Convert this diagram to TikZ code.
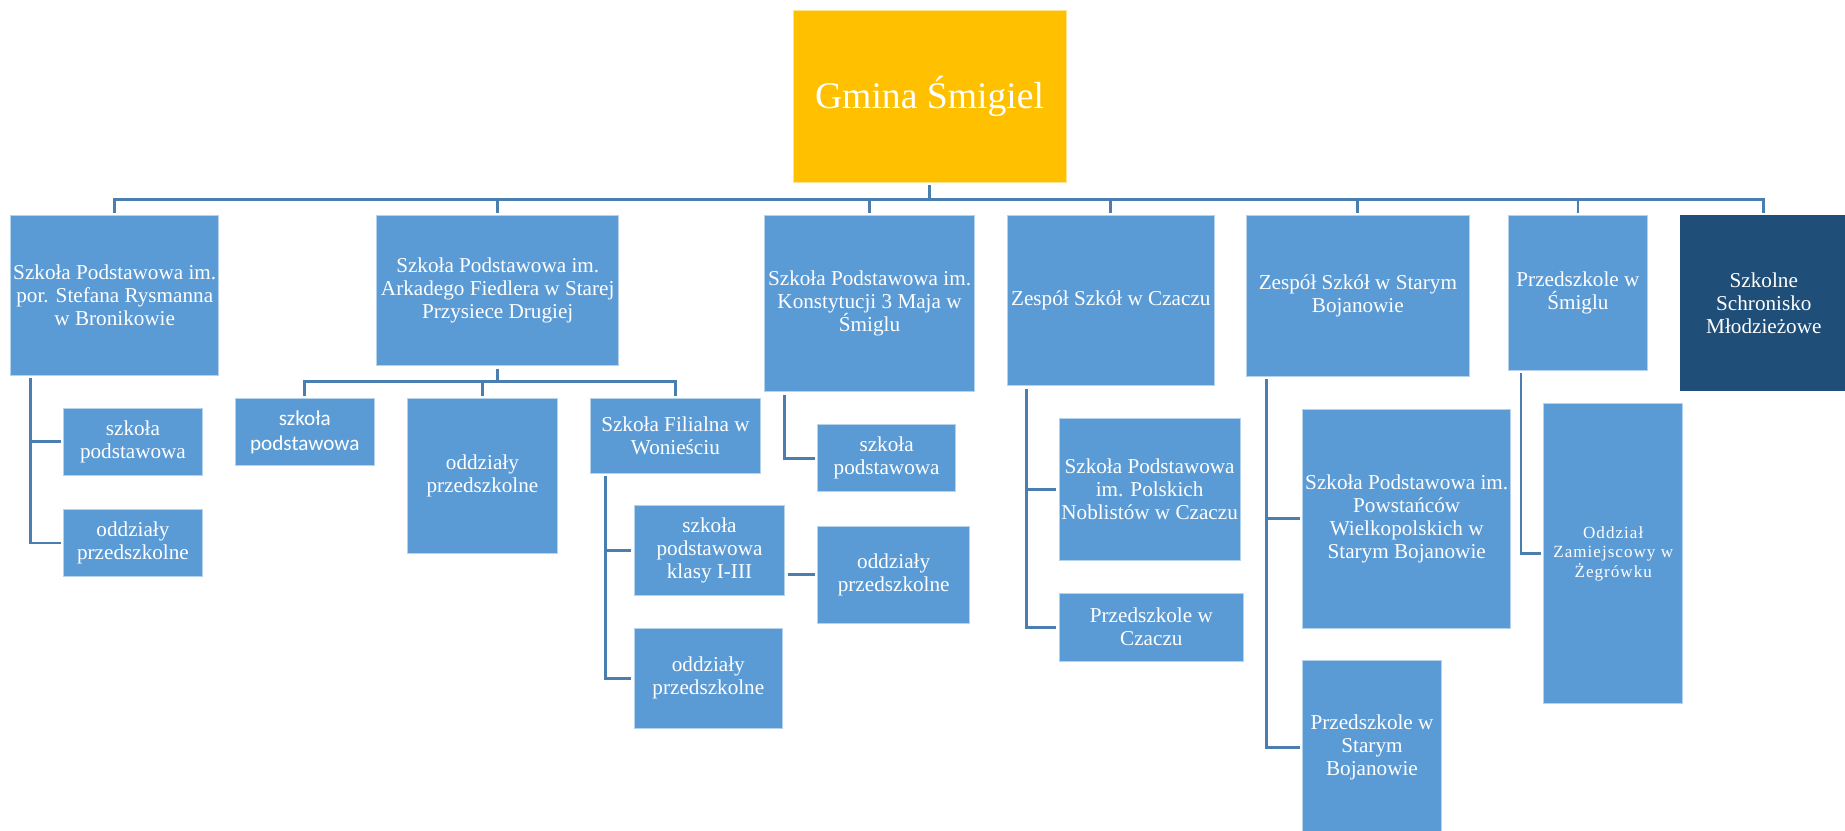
\documentclass[tikz,border=0pt]{standalone}
\usepackage{fontspec}
\setmainfont{Liberation Serif}
\newfontfamily\calibrifont{Carlito}
\usepackage{tikz}
\definecolor{boxblue}{HTML}{5B9BD5}
\definecolor{boxdark}{HTML}{1F4E79}
\definecolor{boxgold}{HTML}{FFC000}
\definecolor{linkblue}{HTML}{4A7EB0}

\begin{document}
\begin{tikzpicture}[x=1pt, y=-1pt,
        unit/.style={fill=boxblue, draw=white!55!boxblue, line width=0.8pt, text=white, align=center,
            inner xsep=0pt, inner ysep=2pt, font=\fontsize{18}{19.5}\selectfont},
        link/.style={draw=linkblue, line width=2.4pt, shorten <=2pt, shorten >=2pt}]
                \useasboundingbox (0,0) rectangle (1568,706);
                \node[unit, fill=boxgold, draw=white!55!boxgold, minimum width=232pt, minimum height=146pt,
                    font=\fontsize{32}{38}\selectfont] (gmina) at (790,82) {Gmina Śmigiel};
                \node[unit, minimum width=177pt, minimum height=136pt] (bronikowo) at (97.5,251) {Szkoła Podstawowa im.\\por. Stefana Rysmanna\\w Bronikowie};
                \node[unit, minimum width=206pt, minimum height=128pt] (przysieka) at (423,247) {Szkoła Podstawowa im.\\Arkadego Fiedlera w Starej\\Przysiece Drugiej};
                \node[unit, minimum width=178pt, minimum height=150pt] (smigiel) at (739,258) {Szkoła Podstawowa im.\\Konstytucji 3 Maja w\\Śmiglu};
                \node[unit, minimum width=176pt, minimum height=145pt] (czacz) at (944,255.5) {Zespół Szkół w Czaczu};
                \node[unit, minimum width=190pt, minimum height=137pt] (bojanowo) at (1154,251.5) {Zespół Szkół w Starym\\Bojanowie};
                \node[unit, minimum width=118pt, minimum height=132pt] (przedszkole) at (1341,249) {Przedszkole w\\Śmiglu};
                \node[unit, fill=boxdark, draw=boxdark, minimum width=142pt, minimum height=149pt] (schronisko) at (1499,257.5) {Szkolne\\Schronisko\\Młodzieżowe};
                \node[unit, minimum width=118pt, minimum height=57pt] (bronikowo sp) at (113,375.5) {szkoła\\podstawowa};
                \node[unit, minimum width=118pt, minimum height=57pt] (bronikowo op) at (113,461.5) {oddziały\\przedszkolne};
                \node[unit, minimum width=118pt, minimum height=57pt, font=\calibrifont\fontsize{18}{21}\selectfont] (przysieka sp) at (259,367.5) {szkoła\\podstawowa};
                \node[unit, minimum width=128pt, minimum height=131pt] (przysieka op) at (410,404.5) {oddziały\\przedszkolne};
                \node[unit, minimum width=144pt, minimum height=63pt] (wonieść) at (574,370.5) {Szkoła Filialna w\\Wonieściu};
                \node[unit, minimum width=128pt, minimum height=76pt] (wonieść sp) at (603,468) {szkoła\\podstawowa\\klasy I-III};
                \node[unit, minimum width=126pt, minimum height=85pt] (wonieść op) at (602,576.5) {oddziały\\przedszkolne};
                \node[unit, minimum width=129pt, minimum height=83pt] (klasy op) at (759.5,488.5) {oddziały\\przedszkolne};
                \node[unit, minimum width=117pt, minimum height=57pt] (smigiel sp) at (753.5,389.5) {szkoła\\podstawowa};
                \node[unit, minimum width=154pt, minimum height=120pt] (czacz sp) at (977,416) {Szkoła Podstawowa\\im. Polskich\\Noblistów w Czaczu};
                \node[unit, minimum width=157pt, minimum height=58pt] (czacz p) at (978.5,533) {Przedszkole w\\Czaczu};
                \node[unit, minimum width=177pt, minimum height=186pt] (bojanowo sp) at (1195.5,441) {Szkoła Podstawowa im.\\Powstańców\\Wielkopolskich w\\Starym Bojanowie};
                \node[unit, minimum width=118pt, minimum height=148pt] (bojanowo p) at (1166,635) {Przedszkole w\\Starym\\Bojanowie};
                \node[unit, minimum width=118pt, minimum height=255pt,
                    font=\addfontfeature{LetterSpace=6}\fontsize{14.5}{16.5}\selectfont] (zegrowo) at (1371,470.5) {Oddział\\Zamiejscowy w\\Żegrówku};
                \foreach \n in {bronikowo,przysieka,smigiel,czacz,bojanowo,przedszkole,schronisko}
                    \draw[link] (gmina.south) -- ++(0,14) -| (\n.north);
                \draw[link] (bronikowo.south west) ++(17,0) |- (bronikowo sp.west);
                \draw[link] (bronikowo.south west) ++(17,0) |- (bronikowo op.west);
                \foreach \n in {przysieka sp,przysieka op,wonieść}
                    \draw[link] (przysieka.south) -- ++(0,13) -| (\n.north);
                \draw[link] (wonieść.south west) ++(13,0) |- (wonieść sp.west);
                \draw[link] (wonieść.south west) ++(13,0) |- (wonieść op.west);
                \draw[link] (klasy op.west -| wonieść sp.east) -- (klasy op.west);
                \draw[link] (smigiel.south west) ++(17,0) |- (smigiel sp.west);
                \draw[link] (czacz.south west) ++(17,0) |- (czacz sp.west);
                \draw[link] (czacz.south west) ++(17,0) |- (czacz p.west);
                \draw[link] (bojanowo.south west) ++(18,0) |- (bojanowo sp.west);
                \draw[link] (bojanowo.south west) ++(18,0) |- (bojanowo p.west);
                \draw[link] (przedszkole.south west) ++(11,0) |- (zegrowo.west);
            \end{tikzpicture}
\end{document}
